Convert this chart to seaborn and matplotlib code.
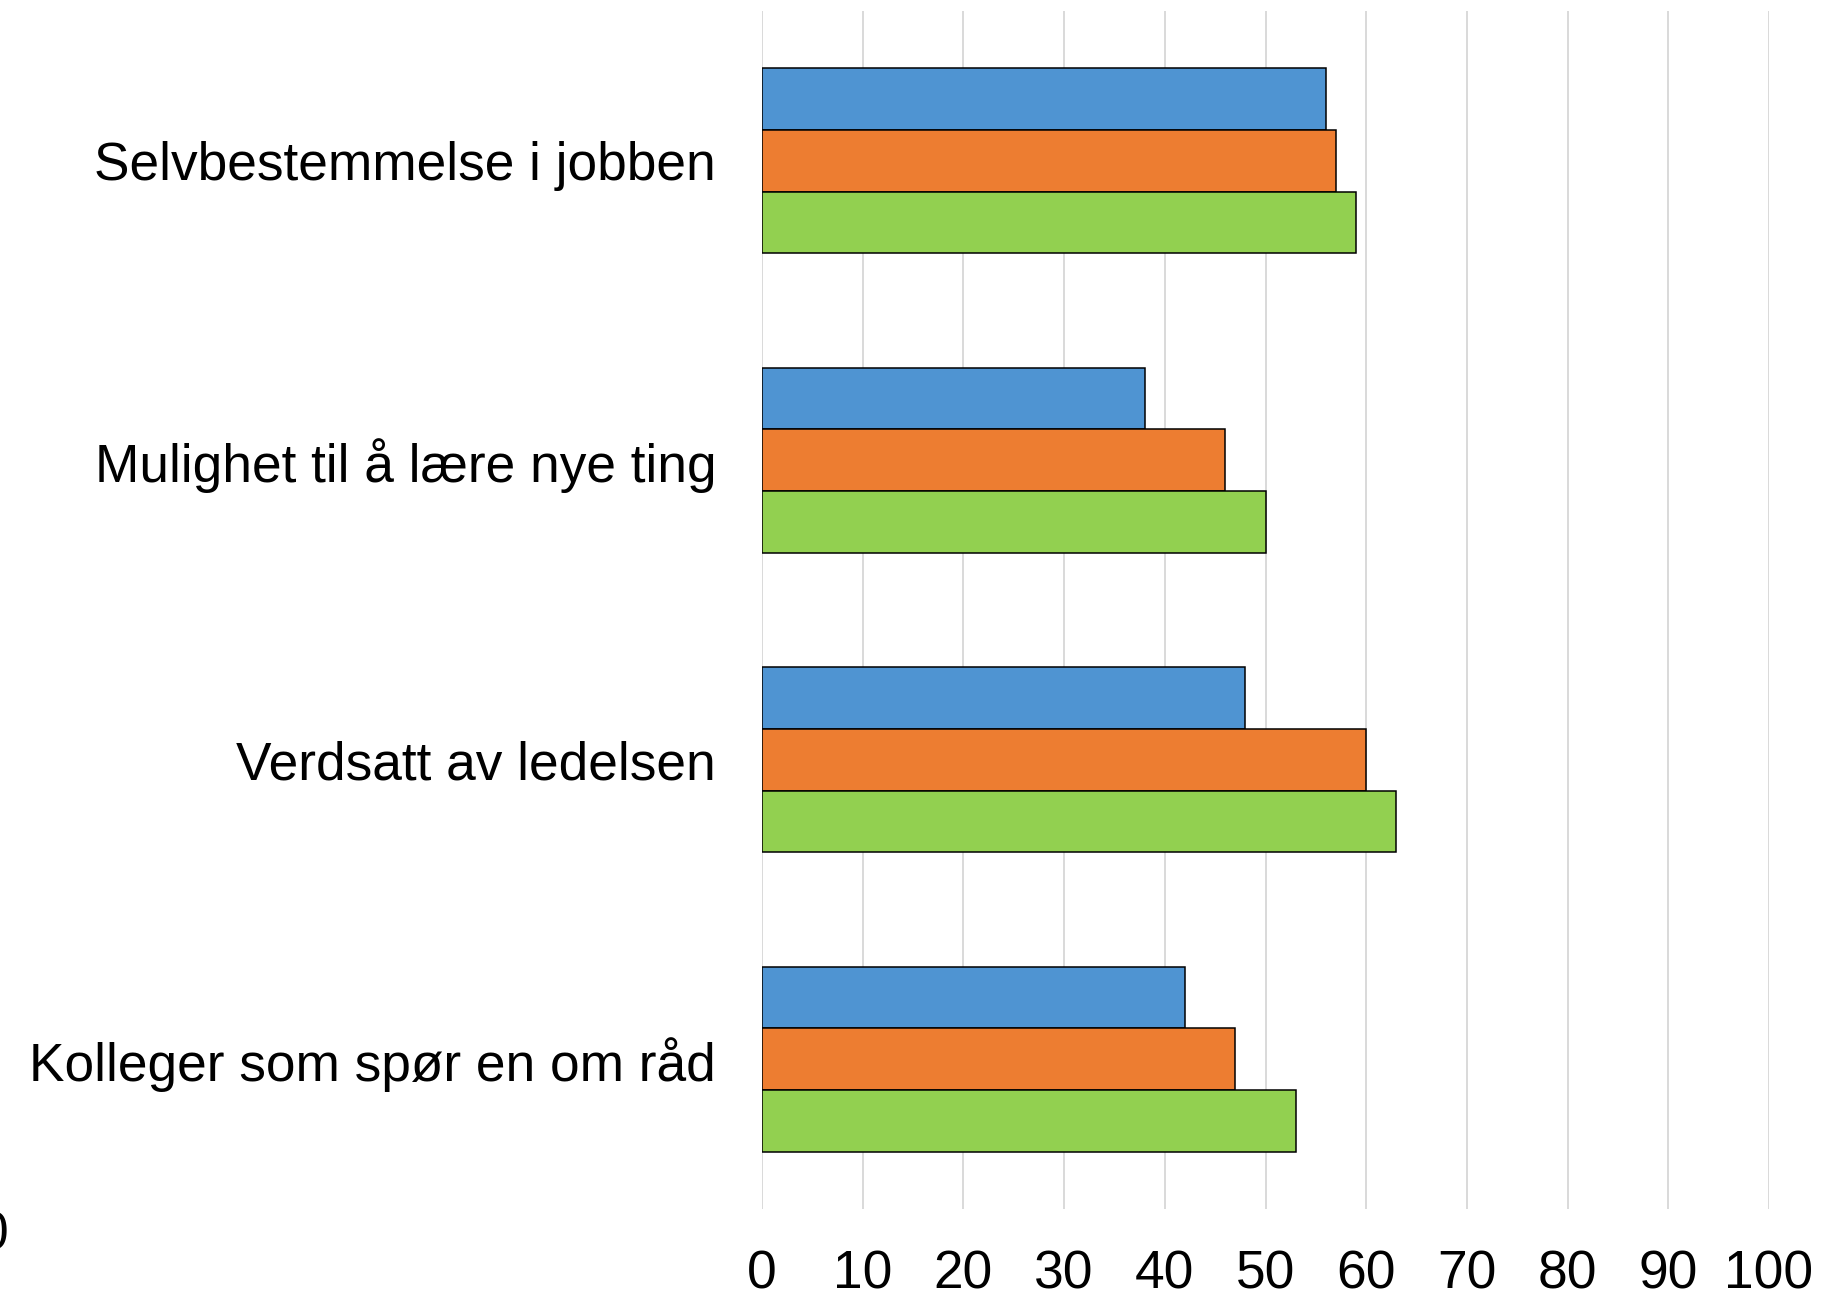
import matplotlib
matplotlib.use("Agg")
import matplotlib.pyplot as plt
import pandas as pd
import seaborn as sns

categories = [
    "Selvbestemmelse i jobben",
    "Mulighet til å lære nye ting",
    "Verdsatt av ledelsen",
    "Kolleger som spør en om råd",
]
series_names = ["Serie 1", "Serie 2", "Serie 3"]
serie_1 = [56, 38, 48, 42]
serie_2 = [57, 46, 60, 47]
serie_3 = [59, 50, 63, 53]
x_ticks = [0, 10, 20, 30, 40, 50, 60, 70, 80, 90, 100]

colors = ["#4F94D2", "#ED7D31", "#92D050"]

rows = []
for name, values in zip(series_names, [serie_1, serie_2, serie_3]):
    for cat, v in zip(categories, values):
        rows.append({"kategori": cat, "serie": name, "verdi": v})
df = pd.DataFrame(rows)

sns.set_theme(style="white")
plt.rcParams["font.family"] = ["Liberation Sans", "DejaVu Sans"]

fig = plt.figure(figsize=(18.39, 12.97), dpi=100)
ax = fig.add_axes([762 / 1839, 1 - 1209 / 1297, (1769 - 762) / 1839, (1209 - 11) / 1297])

sns.barplot(
    data=df, y="kategori", x="verdi", hue="serie",
    order=categories, hue_order=series_names,
    palette=colors, orient="h", width=0.617,
    edgecolor="black", linewidth=1.1, legend=False, ax=ax,
    saturation=1, zorder=3,
)

ax.set_xlim(0, 100)
ax.set_ylim(3.5, -0.5)
ax.set_xticks(x_ticks)
ax.set_xticklabels([str(t) for t in x_ticks])
ax.grid(axis="x", color="#D9D9D9", linewidth=1.4, zorder=0)
ax.grid(axis="y", visible=False)
ax.set_axisbelow(True)
for s in ax.spines.values():
    s.set_visible(False)
ax.set_xlabel("")
ax.set_ylabel("")
ax.tick_params(axis="x", length=0, labelsize=38.3, pad=29, colors="black")
ax.tick_params(axis="y", length=0, labelsize=38.3, pad=33, colors="black")

# partly visible label at the lower left edge
fig.text(9 / 1839, 1 - 1235 / 1297, "0", ha="right", va="center", fontsize=38.3, color="black")

fig.savefig("out.png", dpi=100)
